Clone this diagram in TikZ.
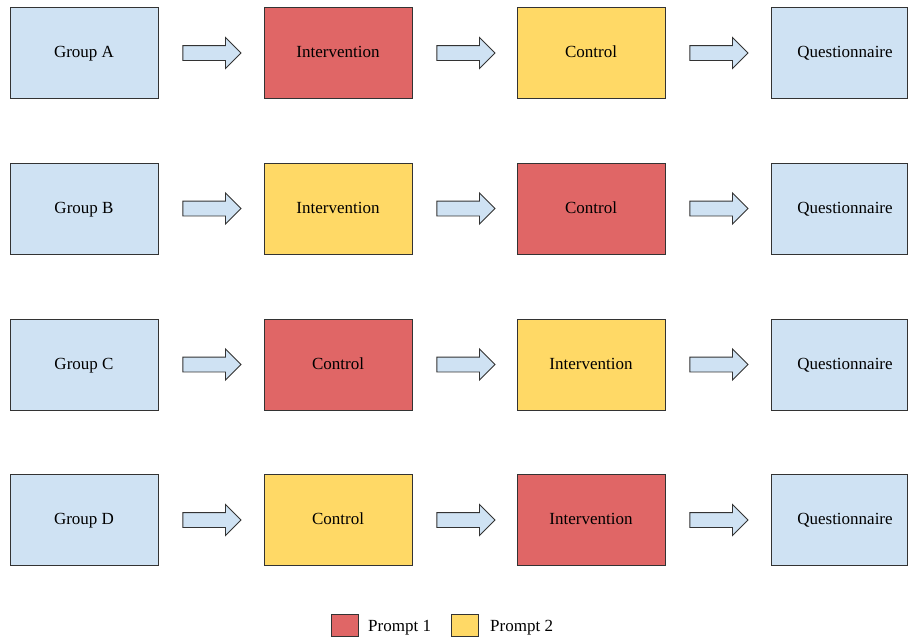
\documentclass[tikz,border=0pt]{standalone}
\usepackage{fontspec}
\setmainfont{Liberation Serif}
\usepackage{xcolor}
\usepackage{tikz}
\usetikzlibrary{calc,shapes.arrows}
\definecolor{edge}{HTML}{333333}
\definecolor{sky}{HTML}{CFE2F3}
\definecolor{rose}{HTML}{E06666}
\definecolor{sun}{HTML}{FFD966}
\tikzset{
  box/.style={draw=edge, line width=0.9pt, minimum width=148, minimum height=91, inner sep=0pt,
    text height=12.5pt, text depth=3.5pt, font=\fontsize{17}{20}\selectfont},
  gbox/.style={box, fill=sky},
  pone/.style={box, fill=rose},
  ptwo/.style={box, fill=sun},
  flow/.style={single arrow, draw=edge, fill=sky, line width=0.9pt, inner xsep=0pt, inner ysep=7pt,
    minimum height=58, single arrow head extend=8, anchor=tail},
  keybox/.style={draw=edge, line width=0.9pt, minimum width=27, minimum height=22, inner sep=0pt},
  keytext/.style={anchor=west, inner sep=0pt, text height=12.5pt, text depth=3.5pt, font=\fontsize{17}{20}\selectfont}
}
\begin{document}
\begin{tikzpicture}[x=1pt,y=-1pt]
  \useasboundingbox (0,0) rectangle (908,638);

  % row A
  \node[gbox] (ga) at (84,53) {Group A};
  \node[pone] (ia) at (338,53) {Intervention};
  \node[ptwo] (ca) at (591,53) {Control};
  \node[gbox, minimum width=136] (qa) at (839,53) {\hspace*{12pt}Questionnaire};

  % row B
  \node[gbox] (gb) at (84,208.5) {Group B};
  \node[ptwo] (ib) at (338,208.5) {Intervention};
  \node[pone] (cb) at (591,208.5) {Control};
  \node[gbox, minimum width=136] (qb) at (839,208.5) {\hspace*{12pt}Questionnaire};

  % row C
  \node[gbox] (gc) at (84,364.5) {Group C};
  \node[pone] (cc) at (338,364.5) {Control};
  \node[ptwo] (ic) at (591,364.5) {Intervention};
  \node[gbox, minimum width=136] (qc) at (839,364.5) {\hspace*{12pt}Questionnaire};

  % row D
  \node[gbox] (gd) at (84,520) {Group D};
  \node[ptwo] (cd) at (338,520) {Control};
  \node[pone] (id) at (591,520) {Intervention};
  \node[gbox, minimum width=136] (qd) at (839,520) {\hspace*{12pt}Questionnaire};

  % block arrows between the boxes
  \foreach \a in {ga,ia,ca,gb,ib,cb,gc,cc,ic,gd,cd,id}
    \node[flow] at ($(\a.east)+(24,0)$) {};

  % legend
  \node[keybox, fill=rose] (k1) at (344.5,625) {};
  \node[keytext] (t1) at (368,627) {Prompt 1};
  \node[keybox, fill=sun] (k2) at (465,625) {};
  \node[keytext] (t2) at (490,627) {Prompt 2};
\end{tikzpicture}
\end{document}
